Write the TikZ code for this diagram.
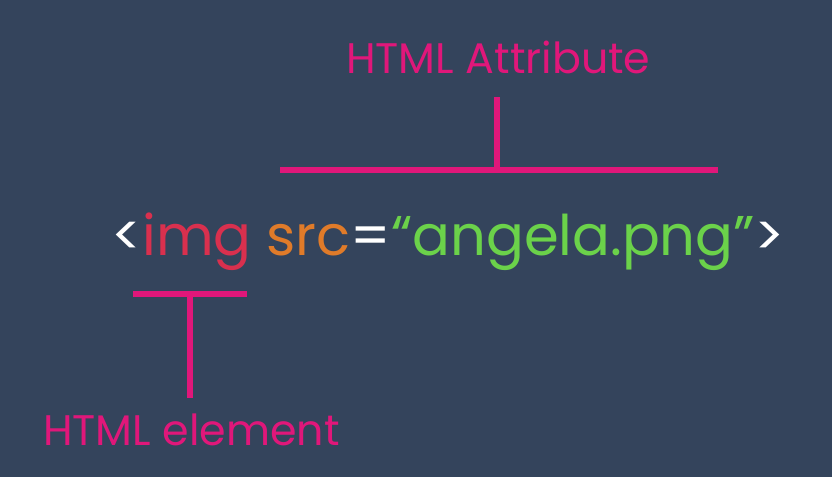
\documentclass[tikz,border=0pt]{standalone}
\usepackage{fontspec}
\setmainfont{Poppins}
\definecolor{bgblue}{HTML}{34445C}
\definecolor{labelpink}{HTML}{E0177A}
\definecolor{tagred}{HTML}{D9304E}
\definecolor{attrorange}{HTML}{E07B29}
\definecolor{valgreen}{HTML}{6BD24A}
\begin{document}
\begin{tikzpicture}[x=0.03cm,y=-0.03cm,line cap=butt,
	bracket/.style={draw=labelpink,line width=4.5pt},
	label/.style={text=labelpink,font=\fontsize{36.5}{40}\selectfont,inner sep=0pt,anchor=base west},
	code/.style={text=white,font=\fontsize{47.8}{52}\selectfont,inner sep=0pt,anchor=base west}]
	\fill[bgblue] (0,0) rectangle (832,477);
	\useasboundingbox (0,0) rectangle (832,477);
	% texts
	\node[label] (attr) at (346,73) {HTML Attribute};
	\node[code] (tag) at (111,255) {<{\color{tagred}img} {\color{attrorange}src}=\textcolor{valgreen}{“angela.png”}>};
	\node[label] (elem) at (43,445) {HTML element};
	% bracket over the attribute
	\coordinate (attrL) at (280,170);
	\coordinate (attrR) at (718,170);
	\coordinate (attrM) at (497,170);
	\coordinate (attrT) at (497,97);
	\draw[bracket] (attrL) -- (attrR);
	\draw[bracket] (attrM) -- (attrT);
	% bracket under the element
	\coordinate (elemL) at (133,294);
	\coordinate (elemR) at (247,294);
	\coordinate (elemM) at (190,294);
	\coordinate (elemB) at (190,398);
	\draw[bracket] (elemL) -- (elemR);
	\draw[bracket] (elemM) -- (elemB);
\end{tikzpicture}
\end{document}
